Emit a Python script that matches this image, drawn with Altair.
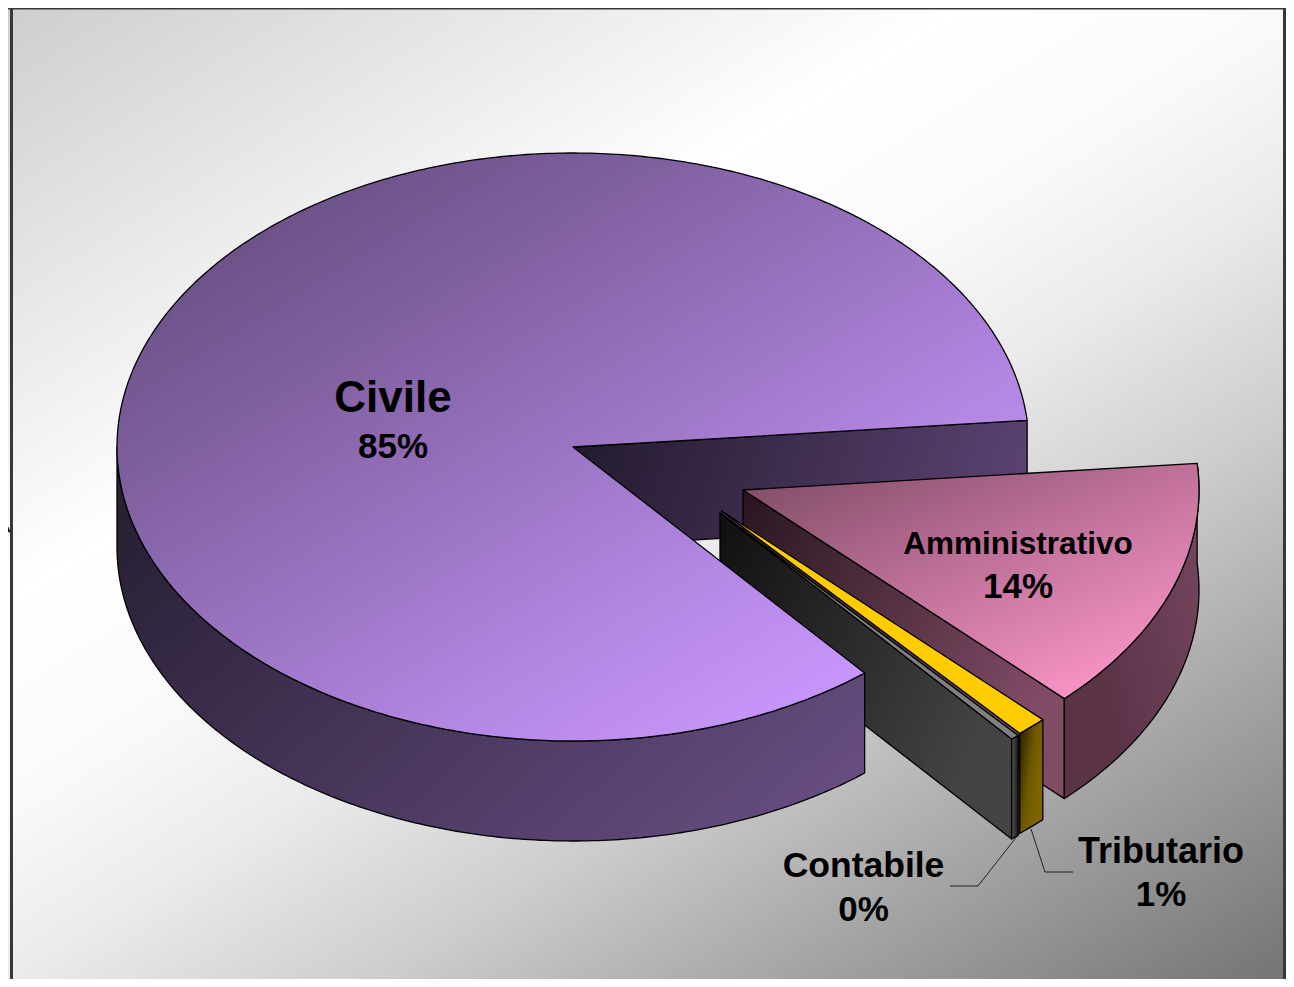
import numpy as np
import pandas as pd
import altair as alt

# ---- data
categories = ["Amministrativo", "Tributario", "Contabile", "Civile"]
shares = [14.0, 1.1, 0.3, 84.6]

# ---- layout of the projected pie (page pixels)
START_DEG = -5.2
RX, RY, DEPTH = 456, 294, 100
CENTERS = {"Civile": (573, 447), "Amministrativo": (743, 490),
           "Tributario": (721.5, 511), "Contabile": (720, 513)}
W, H = 1278, 971

# slice angles follow from the shares
angles = {}
a = START_DEG
for c, s in zip(categories, shares):
    angles[c] = (a, a + s * 3.6)
    a += s * 3.6


def rim(cat, a0, a1, dy=0.0):
    cx, cy = CENTERS[cat]
    n = max(2, int(abs(a1 - a0) * 1.5) + 2)
    t = np.radians(np.linspace(a0, a1, n))
    return list(zip(cx + RX * np.cos(t), cy + RY * np.sin(t) + dy))


def table(pts):
    return pd.DataFrame({"x": [p[0] for p in pts], "y": [p[1] for p in pts], "i": range(len(pts))})


xs = alt.X("x:Q", scale=alt.Scale(domain=[8, 8 + W], nice=False, zero=False), axis=None)
ys = alt.Y("y:Q", scale=alt.Scale(domain=[8 + H, 8], nice=False, zero=False), axis=None)


def grad(stops, x1=0, y1=0, x2=1, y2=1):
    return {"gradient": "linear", "x1": x1, "y1": y1, "x2": x2, "y2": y2,
            "stops": [{"offset": o, "color": c} for o, c in stops]}


def poly(pts, fill, stroke="black", sw=1.3):
    return alt.Chart(table(pts)).mark_line(
        fill=fill, stroke=stroke, strokeWidth=sw, interpolate="linear-closed", strokeJoin="round"
    ).encode(x=xs, y=ys, order=alt.Order("i:Q"))


def top(cat, fill):
    a0, a1 = angles[cat]
    return poly([CENTERS[cat]] + rim(cat, a0, a1), fill)


def outer_wall(cat, a0, a1, fill):
    return poly(rim(cat, a0, a1) + rim(cat, a1, a0, DEPTH), fill)


def cut_wall(cat, ang, fill):
    cx, cy = CENTERS[cat]
    e = rim(cat, ang, ang)[0]
    return poly([(cx, cy), e, (e[0], e[1] + DEPTH), (cx, cy + DEPTH)], fill)


layers = []

# background
bg = pd.DataFrame({"x": [8], "x2": [8 + W], "y": [8], "y2": [8 + H]})
layers.append(alt.Chart(bg).mark_rect(
    fill=grad([(0, "#cecece"), (0.335, "#ffffff"), (0.45, "#fafafa"), (0.55, "#ebebeb"),
               (0.68, "#cdcdcd"), (0.81, "#a8a8a8"), (1, "#747474")], 0, 0, 0.89, 1.09)
).encode(x=xs, x2="x2:Q", y=ys, y2="y2:Q"))

# frame
frame = pd.DataFrame({"x": [11.5, 1284.5, 8], "x2": [11.5, 1284.5, 8 + W],
                      "y": [7.5, 7.5, 8], "y2": [8 + H, 8 + H, 8]})
layers.append(alt.Chart(frame).mark_rule(color="#383838", strokeWidth=3).encode(
    x=xs, x2="x2:Q", y=ys, y2="y2:Q"))

# small arrow tip at the left edge
layers.append(poly([(8, 527), (10.5, 532.5), (8, 531.5)], "black", sw=0.5))

c0, c1 = angles["Civile"]
am0, am1 = angles["Amministrativo"]
t0, t1 = angles["Tributario"]
k0, k1 = angles["Contabile"]

# Civile cut face, behind everything
layers.append(cut_wall("Civile", c1, grad([(0, "#241b30"), (1, "#5c4372")], 0, 0.4, 1, 0.5)))

# Amministrativo
layers.append(cut_wall("Amministrativo", am1, grad([(0, "#27161f"), (1, "#824c67")], 0, 0, 1, 0.6)))
layers.append(outer_wall("Amministrativo", am0, am1, grad([(0, "#74455e"), (0.75, "#5a3347"), (1, "#5a3347")], 1, 0.2, 0, 0.8)))
layers.append(top("Amministrativo", grad([(0, "#7a4a62"), (0.5, "#c0719a"), (1, "#ff99cc")], 0, 0, 0.85, 1)))

# Contabile cut face, then thin slices
layers.append(cut_wall("Contabile", k1, grad([(0, "#101010"), (1, "#444444")], 0, 0, 1, 0.5)))
layers.append(outer_wall("Contabile", k0, k1, grad([(0, "#555555"), (1, "#1a1a1a")], 0, 0, 1, 0)))
layers.append(top("Contabile", "#808080"))
layers.append(outer_wall("Tributario", t0, t1, grad([(0, "#2a2000"), (0.6, "#6e5800"), (1, "#7d6400")], 0, 0.1, 0.8, 0.6)))
layers.append(top("Tributario", "#ffcc00"))

# Civile
layers.append(outer_wall("Civile", c0, 180, grad([(0, "#282034"), (1, "#664c80")], 0, 0.2, 1, 0.8)))
layers.append(top("Civile", grad([(0, "#5c4574"), (0.3, "#7f609f"), (0.7, "#b487e4"), (0.85, "#c594f8"), (1, "#cc99ff")], 0, 0, 0.95, 1)))

# leader lines
leaders = pd.DataFrame({
    "x": [950, 978, 1018, 1073, 1045, 1031],
    "y": [886, 886, 835, 872, 872, 829],
    "i": range(6),
    "k": ["Contabile"] * 3 + ["Tributario"] * 3,
})
layers.append(alt.Chart(leaders).mark_line(color="#222222", strokeWidth=1).encode(
    x=xs, y=ys, order=alt.Order("i:Q"), detail="k:N"))

# labels
pct = {c: f"{round(s)}%" for c, s in zip(categories, shares)}
lab = pd.DataFrame({
    "x": [393, 393, 1018, 1018, 863.5, 863.5, 1161, 1161],
    "y": [398.5, 447, 544.5, 587, 866, 910, 852, 895],
    "t": ["Civile", pct["Civile"], "Amministrativo", pct["Amministrativo"],
          "Contabile", pct["Contabile"], "Tributario", pct["Tributario"]],
    "s": [44, 35, 31.5, 35, 35.5, 35, 36, 35],
})
for size, g in lab.groupby("s"):
    layers.append(alt.Chart(g).mark_text(
        font="Liberation Sans", fontWeight="bold", fontSize=float(size), color="black",
        align="center", baseline="middle"
    ).encode(x=xs, y=ys, text="t:N"))

chart = alt.layer(*layers).properties(
    width=W, height=H, padding=0, autosize=alt.AutoSizeParams(type="none")
).configure_view(stroke=None)

chart.save("out.html", embed_options={"renderer": "svg", "actions": False})
